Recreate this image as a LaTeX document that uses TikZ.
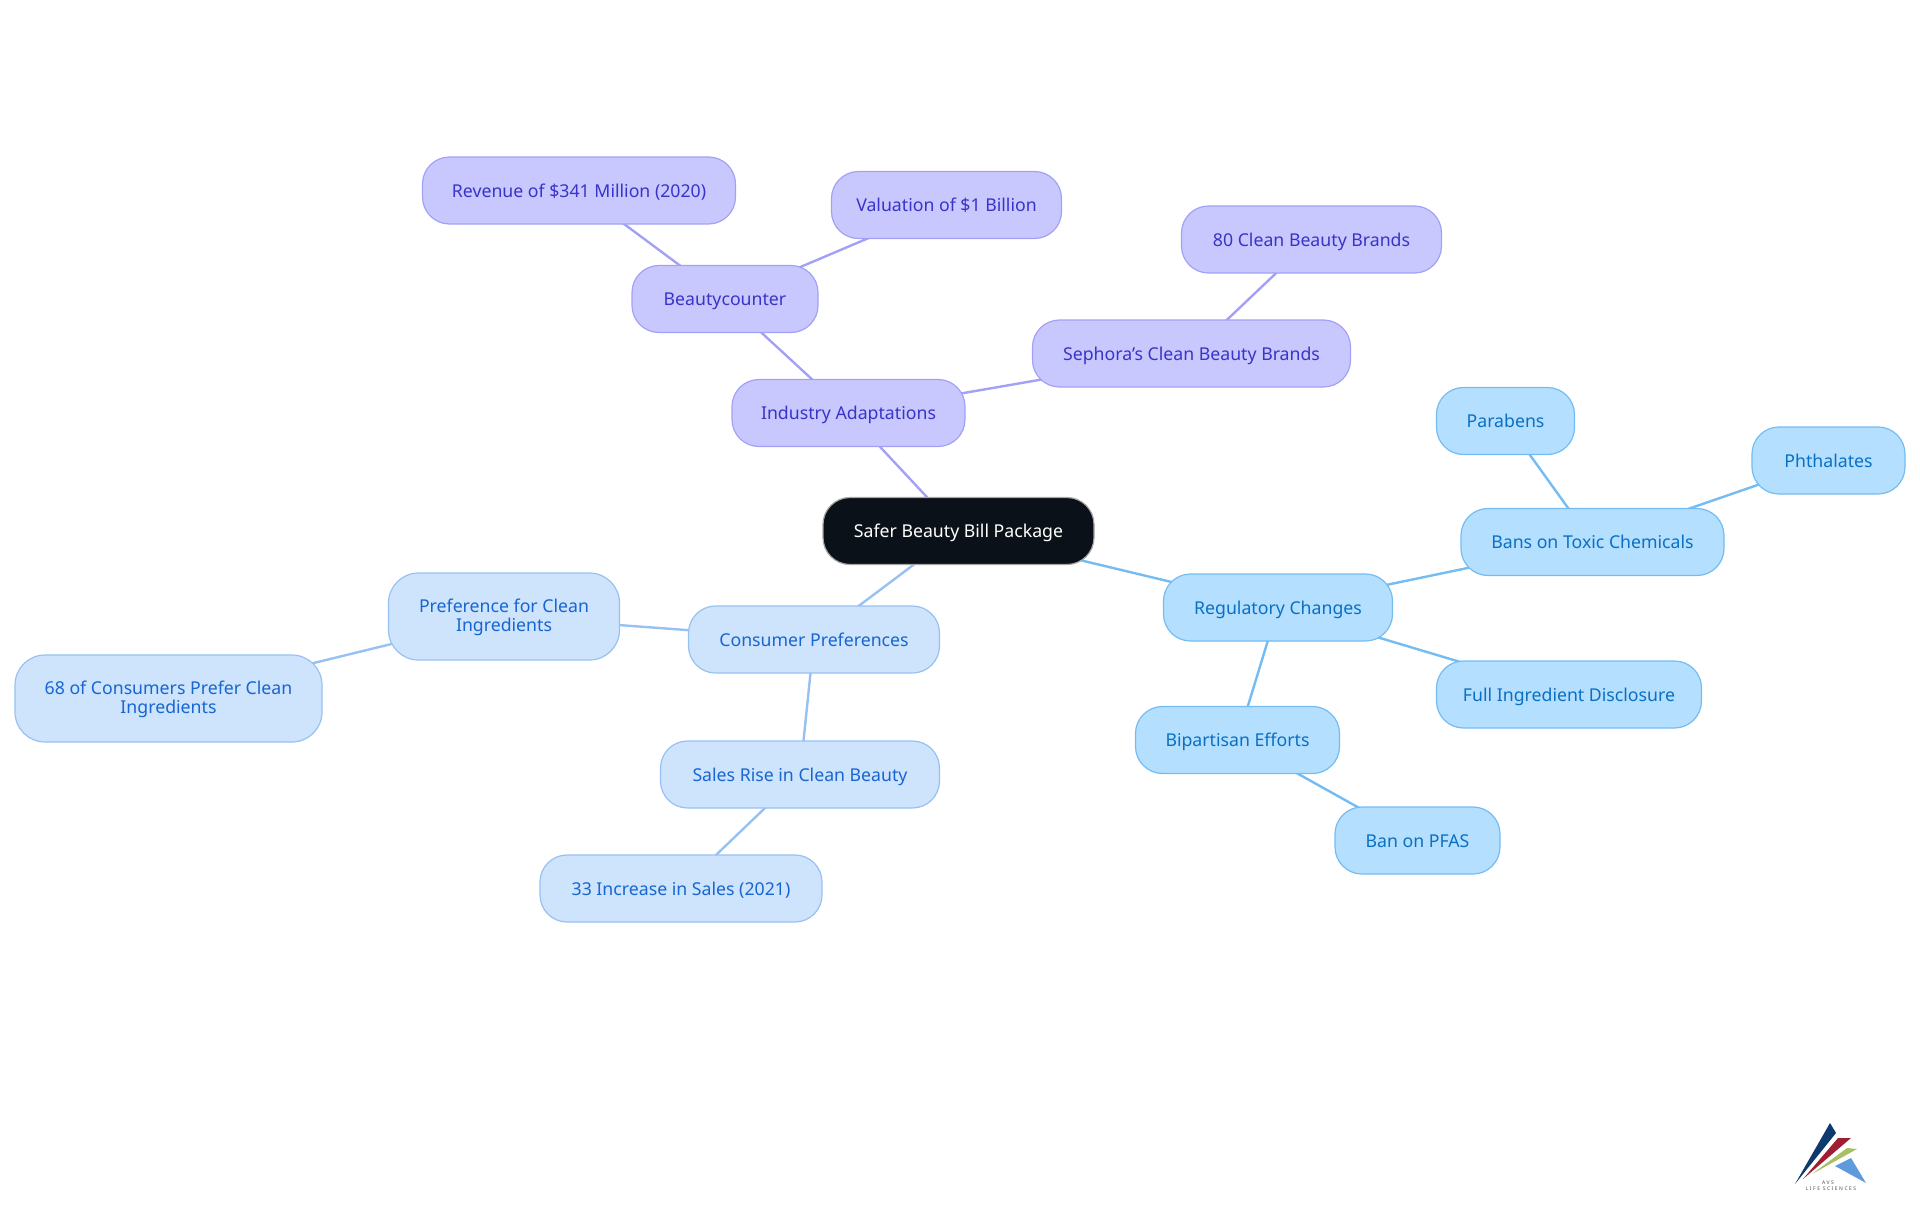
\documentclass[tikz,border=0pt]{standalone}
\usepackage{fontspec}
\setmainfont{Noto Sans}
\usetikzlibrary{backgrounds}
\definecolor{rootfill}{HTML}{0B1119}
\definecolor{purplefill}{HTML}{C8C8FF}
\definecolor{purpleline}{HTML}{A3A1F5}
\definecolor{purpletext}{HTML}{3A33C8}
\definecolor{palefill}{HTML}{CEE3FC}
\definecolor{paleline}{HTML}{97C1F3}
\definecolor{paletext}{HTML}{1766D1}
\definecolor{skyfill}{HTML}{B5DFFF}
\definecolor{skyline}{HTML}{74BCF2}
\definecolor{skytext}{HTML}{0A70C4}
\tikzset{
pill/.style={rectangle,rounded corners=27pt,draw,line width=1.2pt,align=center,inner sep=0pt,
    minimum height=67pt,text height=13pt,text depth=0pt,font=\fontsize{17.7}{19}\selectfont},
wide/.style={minimum width=#1},
tall/.style={minimum height=87pt,text height=29pt,rounded corners=30pt},
rootpill/.style={pill,fill=rootfill,draw=gray!70,text=white},
purplepill/.style={pill,fill=purplefill,draw=purpleline,text=purpletext},
palepill/.style={pill,fill=palefill,draw=paleline,text=paletext},
skypill/.style={pill,fill=skyfill,draw=skyline,text=skytext},
link/.style={line width=2.4pt,color=#1},
logotext/.style={inner sep=0pt,text=black!70,font=\fontsize{5}{6}\selectfont\addfontfeature{LetterSpace=30}},
}
\begin{document}
\begin{tikzpicture}[x=1pt,y=-1pt]
    \useasboundingbox (0,0) rectangle (1920,1215);

    \node[rootpill,wide=271pt] (root) at (958.5,531) {Safer Beauty Bill Package};

    \node[purplepill,wide=233pt] (industry) at (848.5,413) {Industry Adaptations};
    \node[purplepill,wide=186pt] (beauty) at (725,299) {Beautycounter};
    \node[purplepill,wide=313pt] (revenue) at (579,190.5) {Revenue of \$341 Million (2020)};
    \node[purplepill,wide=230pt] (valuation) at (946.5,205) {Valuation of \$1 Billion};
    \node[purplepill,wide=318pt] (sephora) at (1191.5,353.5) {Sephora's Clean Beauty Brands};
    \node[purplepill,wide=260pt] (brands) at (1311.5,239.5) {80 Clean Beauty Brands};

    \node[skypill,wide=229pt] (regulatory) at (1278,607.5) {Regulatory Changes};
    \node[skypill,wide=263pt] (bans) at (1592.5,542) {Bans on Toxic Chemicals};
    \node[skypill,wide=138pt] (parabens) at (1505.5,421) {Parabens};
    \node[skypill,wide=153pt] (phthalates) at (1828.5,460.5) {Phthalates};
    \node[skypill,wide=265pt] (disclosure) at (1569,694.5) {Full Ingredient Disclosure};
    \node[skypill,wide=204pt] (bipartisan) at (1237.5,740) {Bipartisan Efforts};
    \node[skypill,wide=165pt] (pfas) at (1417.5,840.5) {Ban on PFAS};

    \node[palepill,wide=251pt] (consumer) at (814,639.5) {Consumer Preferences};
    \node[palepill,tall,wide=231pt] (preference) at (504,616.5) {Preference for Clean\\Ingredients};
    \node[palepill,tall,wide=307pt] (percent) at (168.5,698.5) {68 of Consumers Prefer Clean\\Ingredients};
    \node[palepill,wide=279pt] (sales) at (800,774.5) {Sales Rise in Clean Beauty};
    \node[palepill,wide=282pt] (increase) at (681,888.5) {33 Increase in Sales (2021)};

    \begin{scope}[on background layer]
        \foreach \a/\b in {root/industry,industry/beauty,beauty/revenue,beauty/valuation,industry/sephora,sephora/brands}
            \draw[link=purpleline] (\a.center) -- (\b.center);
        \foreach \a/\b in {root/regulatory,regulatory/bans,bans/parabens,bans/phthalates,regulatory/disclosure,regulatory/bipartisan,bipartisan/pfas}
            \draw[link=skyline] (\a.center) -- (\b.center);
        \foreach \a/\b in {root/consumer,consumer/preference,preference/percent,consumer/sales,sales/increase}
            \draw[link=paleline] (\a.center) -- (\b.center);
    \end{scope}

    % logo
    \fill[color={rgb,255:red,14;green,58;blue,110}] (1830,1123) -- (1836,1133) -- (1795,1184) -- cycle;
    \fill[color={rgb,255:red,160;green,30;blue,50}] (1838,1138) -- (1851,1138) -- (1803,1179) -- cycle;
    \fill[color={rgb,255:red,170;green,190;blue,100}] (1847,1148) -- (1857,1149) -- (1812,1174) -- cycle;
    \fill[color={rgb,255:red,95;green,155;blue,220}] (1851,1158) -- (1866,1183) -- (1835,1166) -- cycle;
    \node[logotext] (avs) at (1828,1182.5) {AVS};
    \node[logotext] (life) at (1831,1189) {LIFE SCIENCES};
\end{tikzpicture}
\end{document}
